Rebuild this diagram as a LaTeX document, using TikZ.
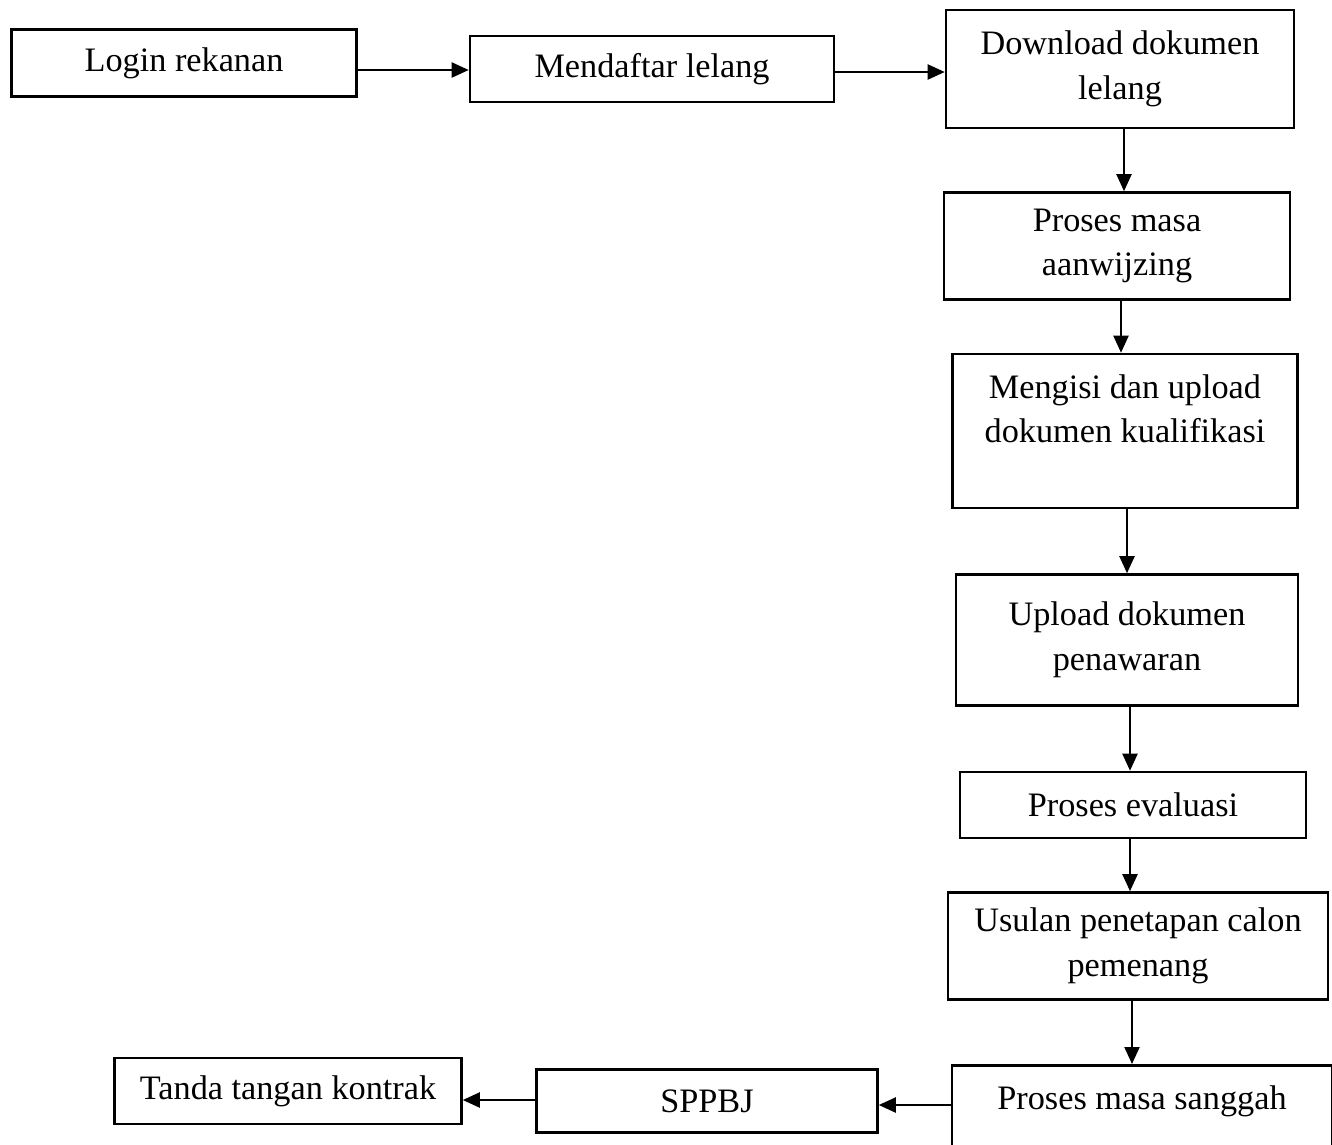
\documentclass[tikz,border=0pt]{standalone}
\usepackage{fontspec}
\setmainfont{Liberation Serif}
\usepackage{tikz}
\usetikzlibrary{shapes,arrows.meta,positioning,calc}

\begin{document}
\begin{tikzpicture}[
    x=0.02cm, y=-0.02cm,
    process/.style={rectangle, draw=black, line width=1.5pt, text centered, align=center,
                    font=\fontsize{19.5}{25.5}\selectfont, inner sep=2pt},
    arrow/.style={-{Triangle[length=0.34cm,width=0.3cm]}, line width=1.2pt}
]
\useasboundingbox (0,0) rectangle (1332,1144);

% Row 1 - top flow to the right
\node[process, minimum width=6.9cm, minimum height=1.34cm] (login) at (184,63) {Login rekanan};
\node[process, minimum width=7.28cm, minimum height=1.32cm] (daftar) at (652,69) {Mendaftar lelang};
\node[process, minimum width=6.96cm, minimum height=2.36cm] (download) at (1120,69) {Download dokumen\\lelang};

% Column - downward flow
\node[process, minimum width=6.92cm, minimum height=2.14cm] (aanwijzing) at (1117,246) {Proses masa\\aanwijzing};
\node[process, minimum width=6.9cm, minimum height=3.08cm] (kualifikasi) at (1125,431) {Mengisi dan upload\\dokumen kualifikasi\\~};
\node[process, minimum width=6.84cm, minimum height=2.62cm] (penawaran) at (1127,640) {Upload dokumen\\penawaran};
\node[process, minimum width=6.92cm, minimum height=1.32cm] (evaluasi) at (1133,805) {Proses evaluasi};
\node[process, minimum width=7.6cm, minimum height=2.14cm] (usulan) at (1138,946) {Usulan penetapan calon\\pemenang};
\node[process, minimum width=7.6cm, anchor=north, text height=0.62cm, text depth=1.2cm,
      inner ysep=0.26cm] (sanggah) at (1142,1064) {Proses masa sanggah};

% Bottom row - back to the left
\node[process, minimum width=6.82cm, minimum height=1.26cm] (sppbj) at (707,1101) {SPPBJ};
\node[process, minimum width=6.94cm, minimum height=1.32cm] (kontrak) at (288,1091) {Tanda tangan kontrak};

% Arrows
\draw[arrow] (login.east |- 0,70) -- (daftar.west |- 0,70);
\draw[arrow] (daftar.east |- 0,72) -- (download.west |- 0,72);
\draw[arrow] (download.south -| 1124,0) -- (aanwijzing.north -| 1124,0);
\draw[arrow] (aanwijzing.south -| 1121,0) -- (kualifikasi.north -| 1121,0);
\draw[arrow] (kualifikasi.south -| 1127,0) -- (penawaran.north -| 1127,0);
\draw[arrow] (penawaran.south -| 1130,0) -- (evaluasi.north -| 1130,0);
\draw[arrow] (evaluasi.south -| 1130,0) -- (usulan.north -| 1130,0);
\draw[arrow] (usulan.south -| 1132,0) -- (sanggah.north -| 1132,0);
\draw[arrow] (sanggah.west |- 0,1105) -- (sppbj.east |- 0,1105);
\draw[arrow] (sppbj.west |- 0,1100) -- (kontrak.east |- 0,1100);

\end{tikzpicture}
\end{document}
